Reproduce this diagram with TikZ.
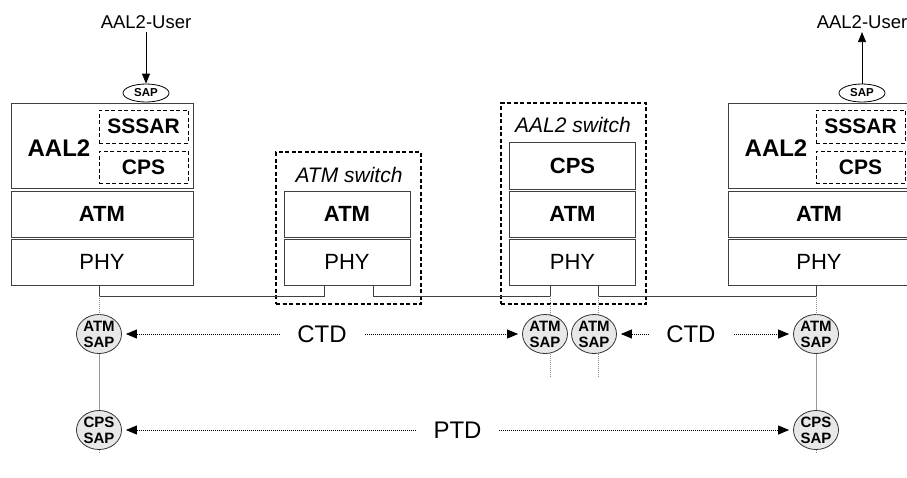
\documentclass[tikz,border=0pt]{standalone}
\usepackage{fontspec}
\setmainfont{Liberation Sans}
\usetikzlibrary{positioning,shapes.geometric,arrows.meta}

\begin{document}
\begin{tikzpicture}[x=1pt,y=-1pt,
  layer/.style={draw=black!75, line width=1pt, minimum width=182pt, minimum height=46pt, inner sep=0pt, outer sep=0pt, font=\fontsize{22}{24}\selectfont},
  swlayer/.style={layer, minimum width=126pt},
  strong/.style={font=\bfseries\fontsize{22}{24}\selectfont},
  sub/.style={draw, line width=1pt, dash pattern=on 4pt off 2.5pt, minimum width=89pt, minimum height=32pt, inner sep=0pt, outer sep=0pt, font=\bfseries\fontsize{21}{24}\selectfont},
  switch/.style={draw, line width=1.1pt, dash pattern=on 4pt off 2.5pt, inner sep=0pt, outer sep=0pt},
  swname/.style={font=\itshape\fontsize{21}{24}\selectfont},
  sap/.style={ellipse, draw=black!80, fill=black!9, line width=0.8pt, minimum width=45pt, minimum height=39pt, inner sep=-4pt, align=center, font=\bfseries\fontsize{15}{16}\selectfont},
  topsap/.style={ellipse, draw, line width=0.8pt, minimum width=46pt, minimum height=18pt, inner sep=0pt, font=\bfseries\fontsize{11.5}{12}\selectfont},
  user/.style={font=\fontsize{18.5}{20}\selectfont},
  bus/.style={draw=black!75, line width=1pt},
  tap/.style={black!45, line width=0.8pt, dash pattern=on 1pt off 1pt},
  peer/.style={{Triangle[length=11pt,width=9pt]}-{Triangle[length=11pt,width=9pt]}, line width=0.8pt, dash pattern=on 1pt off 1pt, shorten <=4pt, shorten >=4pt},
  lbl/.style={fill=white, inner xsep=17pt, font=\fontsize{24}{26}\selectfont},
  >={Triangle[length=10pt,width=8pt]}]
\useasboundingbox (0,0) rectangle (907,477);

% left end system
\node (aal2L) [layer, minimum height=85pt] at (102,145.5) {};
\node (aal2Ltxt) [font=\bfseries\fontsize{24}{26}\selectfont] at (59,148) {AAL2};
\node (sssarL) [sub, minimum height=33pt] at (143.5,126.5) {SSSAR};
\node (cpsL) [sub] at (143.5,167) {CPS};
\node (atmL) [layer, strong, below=3pt of aal2L] {ATM};
\node (phyL) [layer, below=2pt of atmL] {PHY};
\node (sapL) [topsap] at (146,93) {SAP};
\node (userL) [user] at (146,22) {AAL2-User};
\draw[->, line width=0.8pt] (userL) -- (sapL);

% ATM switch
\node (atmswitch) [switch, minimum width=145pt, minimum height=152pt] at (348.5,228) {};
\node (atmswitchname) [swname] at (349,175) {ATM switch};
\node (atmA) [swlayer, strong] at (347,214) {ATM};
\node (phyA) [swlayer, below=2pt of atmA] {PHY};

% AAL2 switch
\node (aal2switch) [switch, minimum width=145pt, minimum height=201pt] at (573.5,203.5) {};
\node (aal2switchname) [swname] at (573,125) {AAL2 switch};
\node (cpsS) [swlayer, strong, minimum height=47pt] at (572.5,165.5) {CPS};
\node (atmS) [swlayer, strong, below=2pt of cpsS] {ATM};
\node (phyS) [swlayer, below=2pt of atmS] {PHY};

% right end system
\node (aal2R) [layer, minimum height=85pt] at (819,145.5) {};
\node (aal2Rtxt) [font=\bfseries\fontsize{24}{26}\selectfont] at (776,148) {AAL2};
\node (sssarR) [sub, minimum height=33pt] at (860.5,126.5) {SSSAR};
\node (cpsR) [sub] at (860.5,167) {CPS};
\node (atmR) [layer, strong, below=3pt of aal2R] {ATM};
\node (phyR) [layer, below=2pt of atmR] {PHY};
\node (sapR) [topsap] at (862,93) {SAP};
\node (userR) [user] at (862,22) {AAL2-User};
\draw[->, line width=0.8pt] (sapR) -- (userR);

% physical links
\coordinate (tapL) at (99,296);
\coordinate (tapA1) at (324,296);
\coordinate (tapA2) at (373,296);
\coordinate (tapS1) at (550,296);
\coordinate (tapS2) at (598,296);
\coordinate (tapR) at (816,296);
\draw[bus] (phyL.south -| tapL) -- (tapL) -- (tapA1) -- (phyA.south -| tapA1);
\draw[bus] (phyA.south -| tapA2) -- (tapA2) -- (tapS1) -- (phyS.south -| tapS1);
\draw[bus] (phyS.south -| tapS2) -- (tapS2) -- (tapR) -- (phyR.south -| tapR);

\coordinate (endL) at (99,452);
\coordinate (endS1) at (550,377);
\coordinate (endS2) at (598,377);
\coordinate (endR) at (816,452);
\draw[tap] (tapS1) -- (endS1);
\draw[tap] (tapS2) -- (endS2);

% service access points
\node (atmsapL) [sap] at (99,334) {ATM\\SAP};
\node (cpssapL) [sap] at (99,430) {CPS\\SAP};
\node (atmsapS1) [sap] at (545,334) {ATM\\SAP};
\node (atmsapS2) [sap] at (594,334) {ATM\\SAP};
\node (atmsapR) [sap] at (816,334) {ATM\\SAP};
\node (cpssapR) [sap] at (816,430) {CPS\\SAP};

\draw[tap] (tapL) -- (atmsapL);
\draw[black!40, line width=0.8pt] (atmsapL) -- (cpssapL);
\draw[tap] (cpssapL) -- (endL);
\draw[tap] (tapR) -- (atmsapR);
\draw[black!40, line width=0.8pt] (atmsapR) -- (cpssapR);
\draw[tap] (cpssapR) -- (endR);

% peer-to-peer relations
\draw[peer] (atmsapL) -- node[lbl] {CTD} (atmsapS1);
\draw[peer] (atmsapS2) -- node[lbl, pos=.42] {CTD} (atmsapR);
\draw[peer] (cpssapL) -- node[lbl] {PTD} (cpssapR);
\end{tikzpicture}
\end{document}
